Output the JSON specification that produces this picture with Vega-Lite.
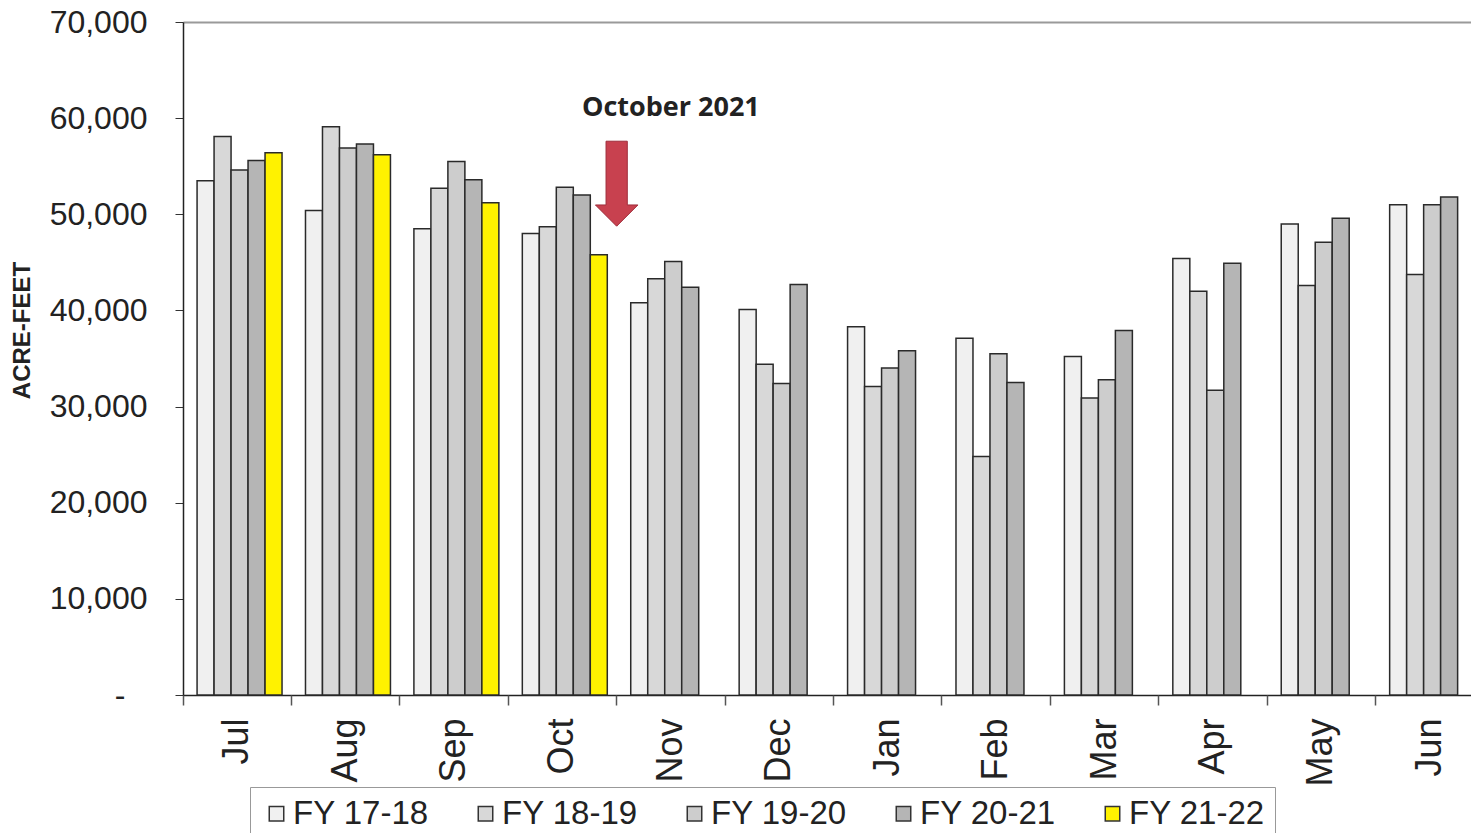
{
  "$schema": "https://vega.github.io/schema/vega-lite/v6.json",
  "width": 1301,
  "height": 673,
  "autosize": {"type": "none"},
  "padding": {"left": 183, "top": 22, "right": -13, "bottom": 138},
  "background": "white",
  "config": {"view": {"stroke": null}, "font": "Liberation Sans"},
  "datasets": {
    "bars": [
      {"month": "Jul", "fy": "FY 17-18", "af": 53500},
      {"month": "Jul", "fy": "FY 18-19", "af": 58100},
      {"month": "Jul", "fy": "FY 19-20", "af": 54600},
      {"month": "Jul", "fy": "FY 20-21", "af": 55600},
      {"month": "Jul", "fy": "FY 21-22", "af": 56400},
      {"month": "Aug", "fy": "FY 17-18", "af": 50400},
      {"month": "Aug", "fy": "FY 18-19", "af": 59100},
      {"month": "Aug", "fy": "FY 19-20", "af": 56900},
      {"month": "Aug", "fy": "FY 20-21", "af": 57300},
      {"month": "Aug", "fy": "FY 21-22", "af": 56200},
      {"month": "Sep", "fy": "FY 17-18", "af": 48500},
      {"month": "Sep", "fy": "FY 18-19", "af": 52700},
      {"month": "Sep", "fy": "FY 19-20", "af": 55500},
      {"month": "Sep", "fy": "FY 20-21", "af": 53600},
      {"month": "Sep", "fy": "FY 21-22", "af": 51200},
      {"month": "Oct", "fy": "FY 17-18", "af": 48000},
      {"month": "Oct", "fy": "FY 18-19", "af": 48700},
      {"month": "Oct", "fy": "FY 19-20", "af": 52800},
      {"month": "Oct", "fy": "FY 20-21", "af": 52000},
      {"month": "Oct", "fy": "FY 21-22", "af": 45800},
      {"month": "Nov", "fy": "FY 17-18", "af": 40800},
      {"month": "Nov", "fy": "FY 18-19", "af": 43300},
      {"month": "Nov", "fy": "FY 19-20", "af": 45100},
      {"month": "Nov", "fy": "FY 20-21", "af": 42400},
      {"month": "Dec", "fy": "FY 17-18", "af": 40100},
      {"month": "Dec", "fy": "FY 18-19", "af": 34400},
      {"month": "Dec", "fy": "FY 19-20", "af": 32400},
      {"month": "Dec", "fy": "FY 20-21", "af": 42700},
      {"month": "Jan", "fy": "FY 17-18", "af": 38300},
      {"month": "Jan", "fy": "FY 18-19", "af": 32100},
      {"month": "Jan", "fy": "FY 19-20", "af": 34000},
      {"month": "Jan", "fy": "FY 20-21", "af": 35800},
      {"month": "Feb", "fy": "FY 17-18", "af": 37100},
      {"month": "Feb", "fy": "FY 18-19", "af": 24800},
      {"month": "Feb", "fy": "FY 19-20", "af": 35500},
      {"month": "Feb", "fy": "FY 20-21", "af": 32500},
      {"month": "Mar", "fy": "FY 17-18", "af": 35200},
      {"month": "Mar", "fy": "FY 18-19", "af": 30900},
      {"month": "Mar", "fy": "FY 19-20", "af": 32800},
      {"month": "Mar", "fy": "FY 20-21", "af": 37900},
      {"month": "Apr", "fy": "FY 17-18", "af": 45400},
      {"month": "Apr", "fy": "FY 18-19", "af": 42000},
      {"month": "Apr", "fy": "FY 19-20", "af": 31700},
      {"month": "Apr", "fy": "FY 20-21", "af": 44900},
      {"month": "May", "fy": "FY 17-18", "af": 49000},
      {"month": "May", "fy": "FY 18-19", "af": 42600},
      {"month": "May", "fy": "FY 19-20", "af": 47100},
      {"month": "May", "fy": "FY 20-21", "af": 49600},
      {"month": "Jun", "fy": "FY 17-18", "af": 51000},
      {"month": "Jun", "fy": "FY 18-19", "af": 43750},
      {"month": "Jun", "fy": "FY 19-20", "af": 51000},
      {"month": "Jun", "fy": "FY 20-21", "af": 51800}
    ],
    "arrow": [{"month": "Oct", "af": 53180}],
    "note": [{"month": "Nov", "af": 61100, "label": "October 2021"}]
  },
  "layer": [
    {
      "data": {"name": "bars"},
      "mark": {"type": "bar", "stroke": "#2a2a2a", "strokeWidth": 1.5},
      "encoding": {
        "x": {
          "field": "month", "type": "nominal",
          "scale": {"domain": ["Jul","Aug","Sep","Oct","Nov","Dec","Jan","Feb","Mar","Apr","May","Jun"], "paddingInner": 0, "paddingOuter": 0},
          "axis": {"orient": "bottom", "title": null, "labelAngle": -90, "labelFontSize": 36, "labelFont": "Liberation Sans", "labelColor": "#222", "labelPadding": 23, "ticks": false, "tickSize": 0, "domainColor": "#222", "domainWidth": 1.5}
        },
        "xOffset": {
          "field": "fy", "type": "nominal",
          "scale": {"domain": ["FY 17-18","FY 18-19","FY 19-20","FY 20-21","FY 21-22"], "paddingInner": 0, "paddingOuter": 0.69, "align": 0.6}
        },
        "y": {
          "field": "af", "type": "quantitative",
          "scale": {"domain": [0, 70000], "nice": false},
          "axis": {
            "values": [0,10000,20000,30000,40000,50000,60000,70000],
            "labelExpr": "datum.value == 0 ? '-' : format(datum.value, ',')",
            "labelFontSize": 32, "labelFont": "Liberation Sans", "labelColor": "#222",
            "labelPadding": {"condition": {"test": "datum.value == 0", "value": 50}, "value": 28},
            "tickSize": 8, "tickColor": "#333", "domainColor": "#222", "domainWidth": 1.5, "grid": false,
            "title": "ACRE-FEET", "titleFontSize": 24, "titleFontWeight": "bold", "titleColor": "#222",
            "titleX": -161, "titleY": 308, "titleAngle": -90, "titleAlign": "center", "titleBaseline": "middle"
          }
        },
        "color": {
          "field": "fy", "type": "nominal",
          "scale": {"domain": ["FY 17-18","FY 18-19","FY 19-20","FY 20-21","FY 21-22"], "range": ["#f0f0f0","#d8d8d8","#cdcdcd","#b5b5b5","#fff200"]},
          "legend": {
            "title": null, "orient": "none", "legendX": 67, "legendY": 765, "direction": "horizontal", "columns": 5,
            "symbolType": "square", "symbolSize": 210, "symbolStrokeColor": "#333", "symbolStrokeWidth": 1.5,
            "labelFontSize": 33, "labelFont": "Liberation Sans", "labelColor": "#222", "labelOffset": 0, "labelLimit": 300,
            "columnPadding": 40, "padding": 10, "strokeColor": "#999", "fillColor": "white"
          }
        }
      }
    },
    {
      "data": {"name": "arrow"},
      "mark": {"type": "point", "shape": "M -0.25 -1 L 0.25 -1 L 0.25 0.5 L 0.5 0.5 L 0 1 L -0.5 0.5 L -0.25 0.5 Z", "size": 7225, "filled": true, "fill": "#c8414f", "stroke": "#9e2d3b", "strokeWidth": 1, "opacity": 1},
      "encoding": {
        "x": {
          "field": "month", "type": "nominal", "bandPosition": 1,
          "scale": {"domain": ["Jul","Aug","Sep","Oct","Nov","Dec","Jan","Feb","Mar","Apr","May","Jun"]},
          "axis": {"orient": "top", "title": null, "labels": false, "ticks": false, "domainColor": "#9a9a9a", "domainWidth": 2}
        },
        "y": {"field": "af", "type": "quantitative", "scale": {"domain": [0, 70000]}}
      }
    },
    {
      "data": {"name": "note"},
      "mark": {"type": "text", "font": "Open Sans", "fontWeight": "bold", "fontSize": 27, "color": "#222", "baseline": "middle"},
      "encoding": {
        "x": {
          "field": "month", "type": "nominal",
          "scale": {"domain": ["Jul","Aug","Sep","Oct","Nov","Dec","Jan","Feb","Mar","Apr","May","Jun"]},
          "axis": {"orient": "bottom", "title": null, "labels": false, "domain": false, "ticks": true, "tickSize": 10, "tickColor": "#555", "tickWidth": 1.5, "bandPosition": 0}
        },
        "y": {"field": "af", "type": "quantitative", "scale": {"domain": [0, 70000]}},
        "text": {"field": "label"}
      }
    }
  ],
  "resolve": {"axis": {"x": "independent"}}
}
